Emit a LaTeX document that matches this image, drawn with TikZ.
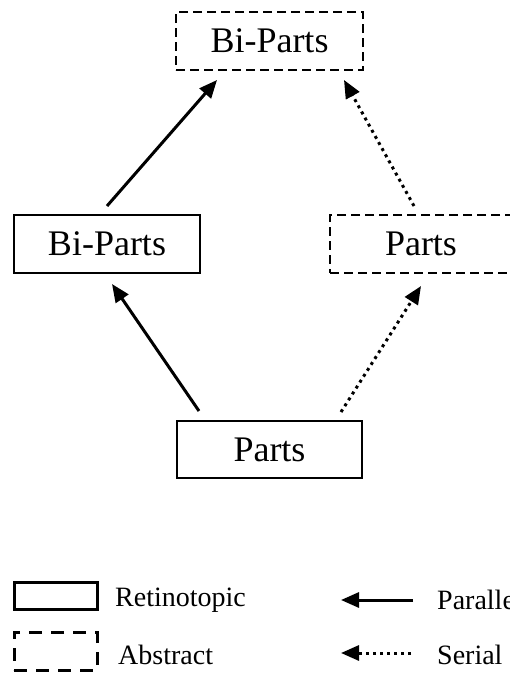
\documentclass[tikz,border=0pt]{standalone}
\usepackage{fontspec}
\setmainfont{Liberation Serif}
\usetikzlibrary{arrows.meta}
\begin{document}
\begin{tikzpicture}[x=1pt,y=-1pt,
  solidbox/.style={draw=black,line width=2pt,rectangle,inner sep=0pt,font=\fontsize{36}{40}\selectfont},
  dashbox/.style={draw=black,line width=2pt,rectangle,inner sep=0pt,dash pattern=on 9pt off 5pt,font=\fontsize{36}{40}\selectfont},
  legsolid/.style={draw=black,line width=3pt,rectangle,inner sep=0pt},
  legdash/.style={draw=black,line width=3pt,rectangle,inner sep=0pt,dash pattern=on 13pt off 9pt},
  par/.style={line width=3pt,-{Triangle[length=18pt,width=15pt]}},
  ser/.style={line width=3pt,dash pattern=on 3pt off 4pt,-{Triangle[length=18pt,width=15pt]}},
  legtext/.style={anchor=west,inner sep=0pt,font=\fontsize{28}{32}\selectfont}]
\useasboundingbox (0,0) rectangle (510,673);
\clip (0,0) rectangle (510,673);
% main boxes
\node[dashbox,minimum width=187pt,minimum height=58pt] (top) at (269.5,41) {Bi-Parts};
\node[solidbox,minimum width=186pt,minimum height=58pt] (lb) at (107,244) {Bi-Parts};
\node[dashbox,minimum width=182pt,minimum height=58pt] (rb) at (421,244) {Parts};
\node[solidbox,minimum width=185pt,minimum height=57pt] (bot) at (269.5,449.5) {Parts};
% connectors
\draw[par] ([xshift=23pt,yshift=9pt]bot.north west) -- ([xshift=99pt,yshift=-10pt]lb.south west);
\draw[par] ([xshift=94pt,yshift=8pt]lb.north west) -- ([xshift=42pt,yshift=-9pt]top.south west);
\draw[ser] ([xshift=-22pt,yshift=8pt]bot.north east) -- ([xshift=92pt,yshift=-12pt]rb.south west);
\draw[ser] ([xshift=85pt,yshift=8pt]rb.north west) -- ([xshift=-20pt,yshift=-9pt]top.south east);
% legend
\node[legsolid,minimum width=83pt,minimum height=27pt] (lsolid) at (55.5,595.5) {};
\node[legdash,minimum width=83pt,minimum height=38pt] (ldash) at (55.5,651) {};
\node[legtext] (tret) at (115,600) {Retinotopic};
\node[legtext] (tabs) at (118,655) {Abstract};
\node[legtext] (tpar) at (437,600) {Parallel};
\node[legtext] (tser) at (437,655) {Serial};
\coordinate (pa1) at (413,600);
\coordinate (pa2) at (341,600);
\coordinate (sa1) at (411,653);
\coordinate (sa2) at (341,653);
\draw[par] (pa1) -- (pa2);
\draw[ser] (sa1) -- (sa2);
\end{tikzpicture}
\end{document}
